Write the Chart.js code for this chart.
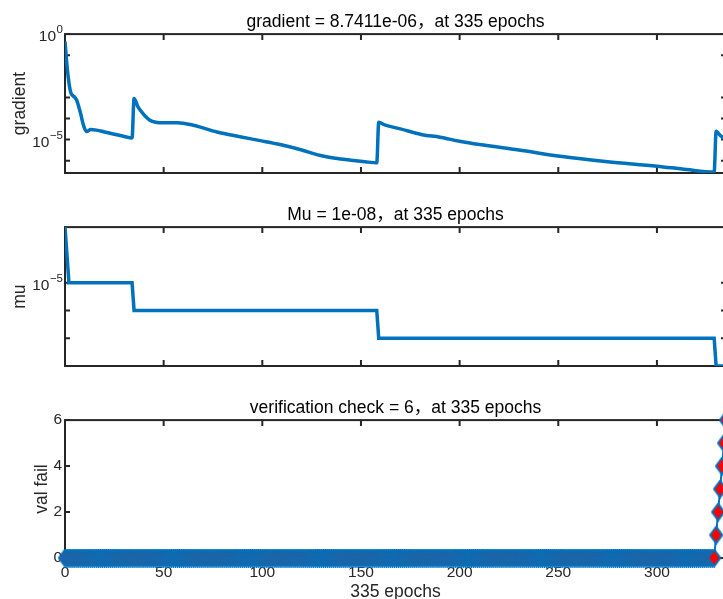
<!DOCTYPE html>
<html>
<head>
<meta charset="utf-8">
<script src="https://cdn.jsdelivr.net/npm/chart.js@4"></script>
<style>
  html, body { margin: 0; padding: 0; background: #fff; width: 723px; height: 599px; overflow: hidden; }
  canvas { position: absolute; left: 0; }
</style>
</head>
<body>
<canvas id="gradChart" width="740" height="190" style="top:0px"></canvas>
<canvas id="muChart" width="740" height="190" style="top:193px"></canvas>
<canvas id="valChart" width="740" height="254" style="top:386px"></canvas>
<script>
// training state (epochs on x)
const xTicks = [0, 50, 100, 150, 200, 250, 300];
const epochMax = 335;

const gradEpochs = [0, 1, 2, 3, 4, 5, 6, 7, 8, 9, 10, 11, 13, 16, 20, 25, 30, 34,
  35, 37, 40, 43, 46, 50, 57, 65, 77, 88, 99, 109, 120, 129, 137, 145, 152, 158,
  159, 162, 170, 181, 190, 200, 210, 230, 251, 275, 300, 315, 329, 330, 332, 334, 335];
const gradValues = [4.4e-1, 3.2e-2, 5.0e-3, 1.6e-3, 1.2e-3, 1.0e-3, 7.1e-4, 3.5e-4, 1.6e-4, 6.3e-5, 3.2e-5, 2.4e-5, 3.0e-5, 2.8e-5, 2.3e-5, 1.8e-5, 1.4e-5, 1.2e-5,
  8.9e-4, 3.5e-4, 1.5e-4, 8.3e-5, 6.6e-5, 6.2e-5, 6.3e-5, 4.8e-5, 2.3e-5, 1.4e-5, 8.9e-6, 5.8e-6, 3.2e-6, 1.8e-6, 1.3e-6, 1.05e-6, 8.9e-7, 7.9e-7,
  6.6e-5, 5.0e-5, 3.2e-5, 1.7e-5, 1.3e-5, 8.3e-6, 5.8e-6, 3.2e-6, 1.6e-6, 8.9e-7, 5.5e-7, 3.8e-7, 2.9e-7, 2.5e-5, 1.6e-5, 1.1e-5, 8.7411e-6];
const gradTicks = [1, 1e-1, 1e-3, 1e-4, 1e-5, 1e-6];

const muEpochs = [0, 1, 2, 34, 35, 158, 159, 329, 330, 335];
const muValues = [1e-3, 1e-4, 1e-5, 1e-5, 1e-6, 1e-6, 1e-7, 1e-7, 1e-8, 1e-8];
const muTicks = [1e-5, 1e-6, 1e-7];

// validation failures: zero for epochs 0..329, then climbing to 6
const valFail = [].concat(new Array(330).fill(0), [1, 2, 3, 4, 5, 6]);
const valTicks = [0, 2, 4, 6];

// labelled decades on the log axes -> exponent text
const logExponents = { 1: '0', 0.00001: '\u22125' };

const BLUE = '#0072BD';
const AXIS = '#262626';
const FONT = '"Liberation Sans", Arial, "Noto Sans CJK SC", sans-serif';

Chart.defaults.font.family = FONT;
Chart.defaults.color = AXIS;
Chart.defaults.animation = false;

// MATLAB-style box with inward ticks on all four sides
const axesBox = {
  id: 'axesBox',
  beforeDatasetsDraw(chart) {
    const { ctx, chartArea: a, scales: { x, y } } = chart;
    ctx.save();
    ctx.strokeStyle = AXIS;
    ctx.lineWidth = 2;
    ctx.strokeRect(a.left, a.top, a.width, a.height);
    ctx.beginPath();
    x.ticks.forEach(t => {
      const px = x.getPixelForValue(t.value);
      ctx.moveTo(px, a.bottom); ctx.lineTo(px, a.bottom - 6);
      ctx.moveTo(px, a.top);    ctx.lineTo(px, a.top + 6);
    });
    y.ticks.forEach(t => {
      const py = y.getPixelForValue(t.value);
      ctx.moveTo(a.left, py);  ctx.lineTo(a.left + 5, py);
      ctx.moveTo(a.right, py); ctx.lineTo(a.right - 5, py);
    });
    ctx.stroke();
    ctx.restore();
  }
};

// 10^n labels with a raised exponent, like the TeX labels in the original
const powerLabels = {
  id: 'powerLabels',
  afterDraw(chart) {
    const { ctx, chartArea: a, scales: { y } } = chart;
    ctx.save();
    ctx.fillStyle = AXIS;
    ctx.textAlign = 'right';
    ctx.textBaseline = 'middle';
    y.ticks.forEach(t => {
      const exp = logExponents[t.value];
      if (!exp) return;
      const py = y.getPixelForValue(t.value);
      ctx.font = '11.5px ' + FONT;
      const ew = ctx.measureText(exp).width;
      ctx.fillText(exp, a.left - 2, py - 4);
      ctx.font = '15.5px ' + FONT;
      ctx.fillText('10', a.left - 2.5 - ew, py + 3);
    });
    ctx.restore();
  }
};

function diamondMarker() {
  const c = document.createElement('canvas');
  c.width = 15; c.height = 19;
  const g = c.getContext('2d');
  g.beginPath();
  g.moveTo(7.5, 1.2); g.lineTo(13.6, 9.5); g.lineTo(7.5, 17.8); g.lineTo(1.4, 9.5);
  g.closePath();
  g.fillStyle = '#FF0000'; g.fill();
  g.lineWidth = 2; g.strokeStyle = BLUE; g.stroke();
  return c;
}

function xScale(showLabels) {
  return {
    type: 'linear', min: 0, max: epochMax,
    afterBuildTicks: s => { s.ticks = xTicks.map(v => ({ value: v })); },
    afterFit: s => { s.height = showLabels ? 82 : 17; },
    grid: { display: false, drawTicks: false },
    border: { display: false },
    ticks: { display: showLabels, padding: 5.4, autoSkip: false, maxRotation: 0, font: { size: 15.5 }, color: AXIS },
    title: { display: showLabels, text: '335 epochs', font: { size: 17.5 }, color: AXIS, padding: { top: 0, bottom: 37.5 } }
  };
}

function logY(min, max, tickList, label) {
  return {
    type: 'logarithmic', min, max,
    afterBuildTicks: s => { s.ticks = tickList.map(v => ({ value: v })); },
    afterFit: s => { s.width = 65; },
    grid: { display: false, drawTicks: false },
    border: { display: false },
    ticks: { display: false, autoSkip: false },
    title: { display: true, text: label, font: { size: 17.5 }, color: AXIS, padding: { top: 10, bottom: 0 } }
  };
}

function titleOpts(text) {
  return { display: true, text, fullSize: false, align: 'center', color: '#000',
    font: { size: 17.5, weight: 'normal' }, padding: { top: 12, bottom: 1.1 } };
}

const baseOptions = {
  responsive: false,
  layout: { padding: { left: 0, right: 14, top: 0, bottom: 0 } },
};
const hidden = { legend: { display: false }, tooltip: { enabled: false } };

new Chart(document.getElementById('gradChart'), {
  type: 'line',
  data: { datasets: [{
    data: gradEpochs.map((e, i) => ({ x: e, y: gradValues[i] })),
    borderColor: BLUE, borderWidth: 3.5, pointRadius: 0, cubicInterpolationMode: 'monotone', borderJoinStyle: 'round'
  }] },
  options: Object.assign({}, baseOptions, {
    plugins: Object.assign({}, hidden, { title: titleOpts('gradient = 8.7411e-06\uFF0Cat 335 epochs') }),
    scales: { x: xScale(false), y: logY(2.6e-7, 1, gradTicks, 'gradient') }
  }),
  plugins: [axesBox, powerLabels]
});

new Chart(document.getElementById('muChart'), {
  type: 'line',
  data: { datasets: [{
    data: muEpochs.map((e, i) => ({ x: e, y: muValues[i] })),
    borderColor: BLUE, borderWidth: 3.5, pointRadius: 0, tension: 0
  }] },
  options: Object.assign({}, baseOptions, {
    plugins: Object.assign({}, hidden, { title: titleOpts('Mu = 1e-08\uFF0Cat 335 epochs') }),
    scales: { x: xScale(false), y: logY(1e-8, 1e-3, muTicks, 'mu') }
  }),
  plugins: [axesBox, powerLabels]
});

new Chart(document.getElementById('valChart'), {
  type: 'line',
  data: { datasets: [{
    data: valFail.map((v, i) => ({ x: i, y: v })),
    borderColor: BLUE, borderWidth: 2, tension: 0,
    pointStyle: diamondMarker(), pointRadius: 7, clip: false
  }] },
  options: Object.assign({}, baseOptions, {
    plugins: Object.assign({}, hidden, { title: titleOpts('verification check = 6\uFF0Cat 335 epochs') }),
    scales: {
      x: xScale(true),
      y: {
        type: 'linear', min: 0, max: 6,
        afterBuildTicks: s => { s.ticks = valTicks.map(v => ({ value: v })); },
        afterFit: s => { s.width = 65; },
        grid: { display: false, drawTicks: false },
        border: { display: false },
        ticks: { padding: 3, autoSkip: false, font: { size: 15.5 }, color: AXIS },
        title: { display: true, text: 'val fail', font: { size: 17.5 }, color: AXIS, padding: { top: 32, bottom: 0 } }
      }
    }
  }),
  plugins: [axesBox]
});
</script>
</body>
</html>
